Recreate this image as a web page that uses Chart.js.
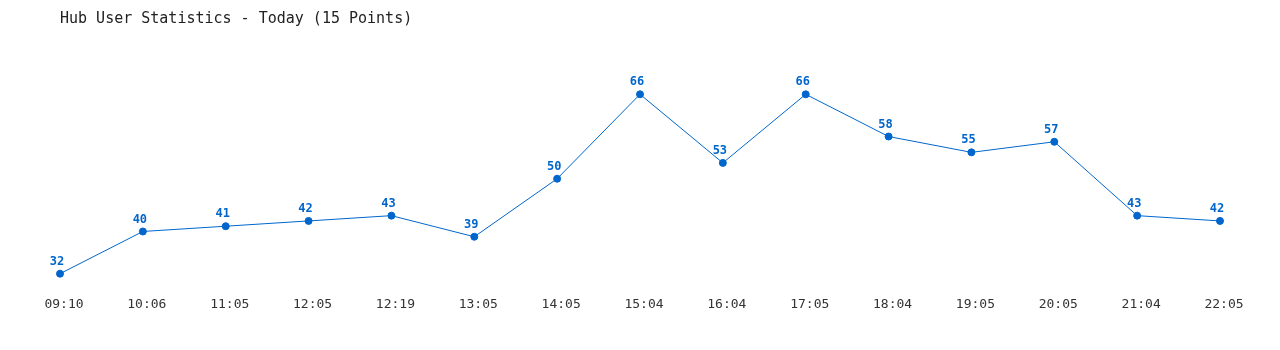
<!DOCTYPE html>
<html>
<head>
<meta charset="utf-8">
<script src="https://cdn.jsdelivr.net/npm/chart.js@4/dist/chart.umd.min.js"></script>
<style>
    html, body { margin: 0; padding: 0; background: #fff; }
    #wrap { width: 1280px; height: 350px; }
</style>
</head>
<body>
<div id="wrap"><canvas id="hubChart" width="1280" height="350"></canvas></div>
<script>
const timeLabels = ['09:10', '10:06', '11:05', '12:05', '12:19', '13:05', '14:05', '15:04', '16:04', '17:05', '18:04', '19:05', '20:05', '21:04', '22:05'];
const userCounts = [32, 40, 41, 42, 43, 39, 50, 66, 53, 66, 58, 55, 57, 43, 42];

const lineColor = '#0066cc';
const monoFont = '"DejaVu Sans Mono", "Liberation Mono", monospace';

// draws the value above every point
const pointValues = {
    id: 'pointValues',
    afterDatasetsDraw(chart) {
        const ctx = chart.ctx;
        const meta = chart.getDatasetMeta(0);
        ctx.save();
        ctx.font = 'bold 12px ' + monoFont;
        ctx.fillStyle = lineColor;
        ctx.textAlign = 'center';
        ctx.textBaseline = 'bottom';
        meta.data.forEach((pt, i) => {
            ctx.fillText(String(userCounts[i]), pt.x - 3, pt.y - 6);
        });
        ctx.restore();
    }
};

new Chart(document.getElementById('hubChart'), {
    type: 'line',
    data: {
        labels: timeLabels,
        datasets: [{
            data: userCounts,
            borderColor: lineColor,
            backgroundColor: lineColor,
            borderWidth: 1,
            pointRadius: 3.5,
            pointHoverRadius: 3.5,
            tension: 0,
            fill: false
        }]
    },
    options: {
        responsive: false,
        animation: false,
        layout: {
            padding: { left: 60, right: 60, top: 0, bottom: 34 }
        },
        plugins: {
            legend: { display: false },
            tooltip: { enabled: false },
            title: {
                display: true,
                text: 'Hub User Statistics - Today (15 Points)',
                align: 'start',
                color: '#222',
                font: { family: monoFont, size: 15, weight: 'normal' },
                padding: { top: 10, bottom: 24 }
            }
        },
        scales: {
            x: {
                offset: false,
                grid: { display: false },
                border: { display: false },
                ticks: {
                    color: '#333',
                    font: { family: monoFont, size: 13 },
                    maxRotation: 0,
                    autoSkip: false,
                    padding: 4,
                    labelOffset: 4
                }
            },
            y: {
                display: false,
                min: 29.97,
                max: 74.02
            }
        }
    },
    plugins: [pointValues]
});
</script>
</body>
</html>
